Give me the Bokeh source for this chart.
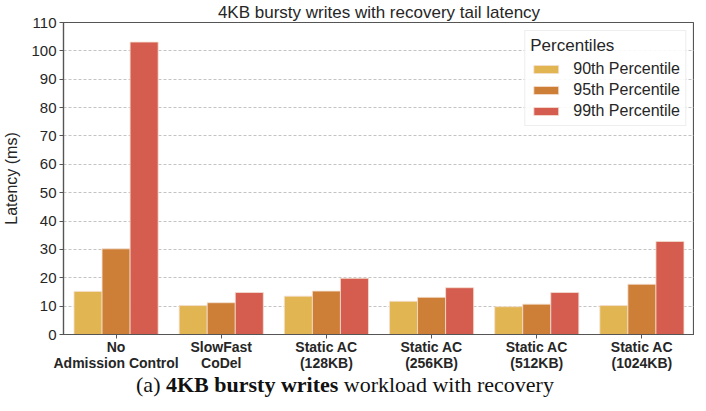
from bokeh.plotting import figure
from bokeh.models import ColumnDataSource, FactorRange, FixedTicker, Div, Legend, LegendItem
from bokeh.transform import dodge
from bokeh.layouts import column
from bokeh.embed import file_html
from bokeh.resources import INLINE

categories = ["No\nAdmission Control", "SlowFast\nCoDel", "Static AC\n(128KB)",
              "Static AC\n(256KB)", "Static AC\n(512KB)", "Static AC\n(1024KB)"]
p90 = [15.2, 10.2, 13.5, 11.7, 9.8, 10.2]
p95 = [30.2, 11.2, 15.3, 13.1, 10.7, 17.7]
p99 = [103.1, 14.8, 19.8, 16.5, 14.8, 32.8]
series_names = ["90th Percentile", "95th Percentile", "99th Percentile"]
colors = ["#e2b553", "#cd7f38", "#d45d50"]
y_ticks = list(range(0, 111, 10))

src = ColumnDataSource(dict(cat=categories, p90=p90, p95=p95, p99=p99))

p = figure(x_range=FactorRange(factors=categories), y_range=(0, 110),
           frame_width=631, frame_height=312, output_backend="svg", toolbar_location=None,
           title="4KB bursty writes with recovery tail latency",
           min_border_left=54, min_border_right=0, min_border_top=0, min_border_bottom=0)

bw = 0.8 / 3
renderers = []
for i, (col, name, c) in enumerate(zip(["p90", "p95", "p99"], series_names, colors)):
    r = p.vbar(x=dodge("cat", (i - 1) * bw, range=p.x_range), top=col, width=bw,
               source=src, fill_color=c, line_color="#f4e0d0", line_width=0.8)
    renderers.append(r)

font = "Liberation Sans"
txt = "#262626"
p.title.text_font = font
p.title.text_font_size = "17px"
p.title.text_font_style = "normal"
p.title.text_color = txt
p.title.align = "center"
p.title.standoff = 1

p.outline_line_color = "#555555"
p.outline_line_width = 1.2
p.background_fill_color = "white"

p.yaxis.ticker = FixedTicker(ticks=y_ticks)
p.yaxis.axis_label = "Latency (ms)"
p.yaxis.axis_label_text_font = font
p.yaxis.axis_label_text_font_size = "16px"
p.yaxis.axis_label_text_font_style = "normal"
p.yaxis.axis_label_text_color = txt
p.yaxis.axis_label_standoff = 8
for ax in (p.xaxis, p.yaxis):
    ax.major_label_text_font = font
    ax.major_label_text_color = txt
    ax.axis_line_color = "#555555"
    ax.axis_line_width = 1.2
    ax.major_tick_line_color = "#555555"
    ax.major_tick_out = 4
    ax.major_tick_in = 0
    ax.minor_tick_line_color = None
p.xaxis.major_label_text_font_size = "14px"
p.xaxis.major_label_text_line_height = 1.05
p.yaxis.major_label_text_font_size = "15px"
p.xaxis.major_label_text_font_style = "bold"
p.xaxis.major_label_standoff = 0
p.yaxis.major_label_standoff = 3

p.xgrid.grid_line_color = None
p.ygrid.grid_line_color = "#b5b5b5"
p.ygrid.grid_line_dash = "3 2"
p.ygrid.grid_line_width = 0.8

legend = Legend(items=[LegendItem(label=n, renderers=[r]) for n, r in zip(series_names, renderers)],
                location="top_right", title="Percentiles")
legend.title_text_font = font
legend.title_text_font_size = "17px"
legend.title_text_font_style = "normal"
legend.title_text_color = txt
legend.title_standoff = 4
legend.label_text_font = font
legend.label_text_font_size = "16px"
legend.label_text_color = txt
legend.glyph_width = 31
legend.glyph_height = 10
legend.label_standoff = 12
legend.label_height = 18
legend.spacing = 3
legend.padding = 5
legend.margin = 8
legend.border_line_color = "#dddddd"
legend.border_line_width = 1
legend.background_fill_alpha = 0.9
p.add_layout(legend)

caption = Div(text='<div style="width:690px;text-align:center;font-family:\'Liberation Serif\';'
                   'font-size:22px;color:#111;line-height:21px;">(a) <b>4KB bursty writes</b> '
                   'workload with recovery</div>', width=690, height=21, margin=0)

layout = column(p, caption, spacing=0)
open("out.html", "w").write(file_html(layout, INLINE))
